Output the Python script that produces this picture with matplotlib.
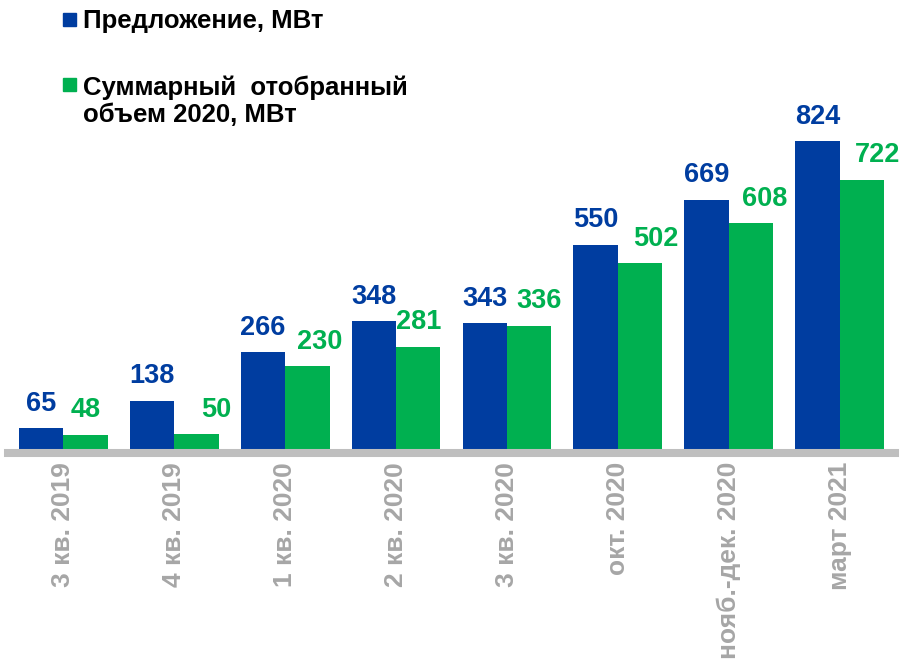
import numpy as np
import matplotlib
matplotlib.use("Agg")
import matplotlib.pyplot as plt
from matplotlib.patches import Rectangle

plt.rcParams['font.family'] = ['Liberation Sans', 'DejaVu Sans']
plt.rcParams['font.weight'] = 'bold'

periods = ["3 кв. 2019", "4 кв. 2019", "1 кв. 2020", "2 кв. 2020",
           "3 кв. 2020", "окт. 2020", "нояб.-дек. 2020", "март 2021"]
offer = [65, 138, 266, 348, 343, 550, 669, 824]
selected = [48, 50, 230, 281, 336, 502, 608, 722]
offer_name = "Предложение, МВт"
selected_name = "Суммарный  отобранный\nобъем 2020, МВт"

blue = "#003DA0"
green = "#00B050"
gray = "#A6A6A6"

# small sideways nudges of the green value labels (points), as in the original
green_nudge = [0, 14, 9, 0, 7, 11.5, 10, 11.5]

fig = plt.figure(figsize=(9.03, 6.61), dpi=100)
ax = fig.add_axes([8 / 903, 1 - 453 / 661, 887 / 903, 453 / 661])

x = np.arange(len(periods))
w = 0.4
b1 = ax.bar(x - w / 2, offer, w, color=blue, zorder=2)
b2 = ax.bar(x + w / 2, selected, w, color=green, zorder=2)

for rect, v in zip(b1, offer):
    ax.annotate(str(v), (rect.get_x() + rect.get_width() / 2, v),
                xytext=(0, 12.5), textcoords="offset points",
                ha="center", va="baseline", fontsize=19.5,
                color=blue, fontweight="bold")
for rect, v, dx in zip(b2, selected, green_nudge):
    ax.annotate(str(v), (rect.get_x() + rect.get_width() / 2, v),
                xytext=(dx, 12.5), textcoords="offset points",
                ha="center", va="baseline", fontsize=19.5,
                color=green, fontweight="bold")

ax.set_xlim(-0.5, 7.5)
ax.set_ylim(0, 1197)
ax.set_yticks([])
ax.set_xticks(x)
ax.set_xticklabels(periods, rotation=90, fontsize=19, color=gray,
                   fontweight="bold")
ax.tick_params(axis="x", length=0, pad=6.5)
for s in ["top", "right", "left"]:
    ax.spines[s].set_visible(False)
ax.spines["bottom"].set_color("#BFBFBF")
ax.spines["bottom"].set_linewidth(5.8)
ax.spines["bottom"].set_zorder(3)
ax.patch.set_visible(False)

# legend drawn at the top left
fig.add_artist(Rectangle((63 / 903, 1 - 26 / 661), 13 / 903, 13 / 661,
                         transform=fig.transFigure, color=blue))
fig.text(83 / 903, 1 - 28 / 661, offer_name, fontsize=18.5,
         fontweight="bold", color="black", va="baseline")
fig.add_artist(Rectangle((63 / 903, 1 - 91 / 661), 13 / 903, 13 / 661,
                         transform=fig.transFigure, color=green))
for i, line in enumerate(selected_name.split("\n")):
    fig.text(83 / 903, 1 - (95 + 27 * i) / 661, line, fontsize=18.5,
             fontweight="bold", color="black", va="baseline")

fig.savefig("out.png", dpi=100)
